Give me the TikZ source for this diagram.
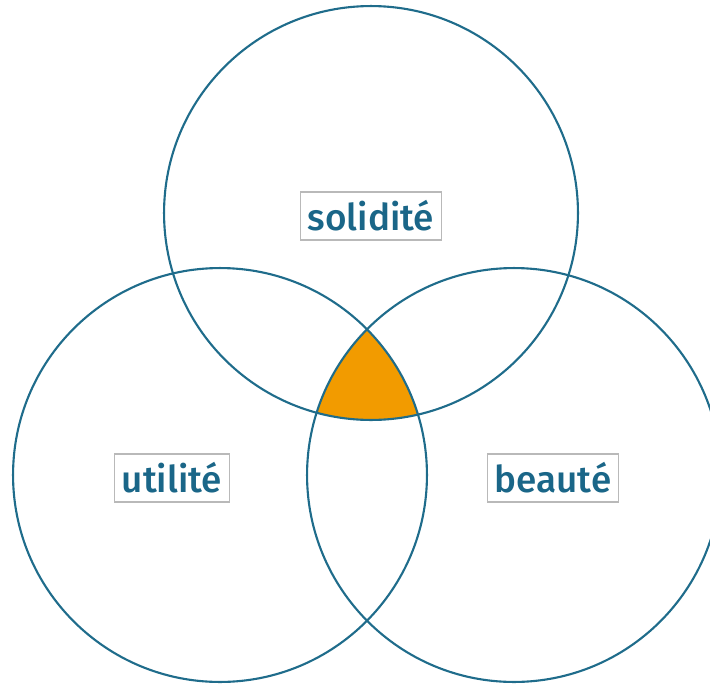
\documentclass[tikz,border=0pt]{standalone}
\usepackage{fontspec}
\setmainfont{Fira Sans}[UprightFont=* Medium]
\definecolor{ringblue}{HTML}{1F6C8B}
\definecolor{labelblue}{HTML}{1A6688}
\definecolor{coreorange}{HTML}{F29B00}
\begin{document}
\begin{tikzpicture}[
    x=0.02cm, y=-0.02cm,
    ring/.style={draw=ringblue, line width=1.2pt},
    label/.style={rectangle, draw=gray!55, line width=0.6pt, fill=white, text=labelblue,
        font=\fontsize{21}{25}\selectfont, inner xsep=4pt, inner ysep=0pt, minimum height=0.96cm}
]
\useasboundingbox (0,0) rectangle (710,683);

\coordinate (solidite) at (371,213);
\coordinate (utilite) at (220,475);
\coordinate (beaute) at (514,475);

\begin{scope}
    \clip (solidite) circle (4.14cm);
    \clip (utilite) circle (4.14cm);
    \fill[coreorange] (beaute) circle (4.14cm);
\end{scope}

\draw[ring] (solidite) circle (4.14cm);
\draw[ring] (utilite) circle (4.14cm);
\draw[ring] (beaute) circle (4.14cm);

\node[label] (solbox) at (371,216) {solidité};
\node[label] (utibox) at (172,478) {utilité};
\node[label] (beabox) at (553,478) {beauté};

\end{tikzpicture}
\end{document}
